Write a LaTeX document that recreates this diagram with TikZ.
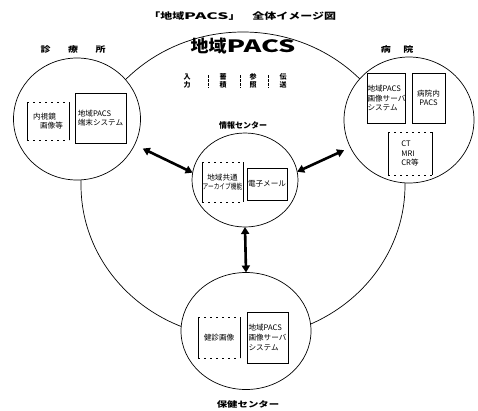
\documentclass[tikz,border=0pt]{standalone}
\usepackage{fontspec}
\setmainfont{Noto Sans CJK JP}
\usetikzlibrary{arrows.meta,shapes.geometric}

% horizontal stretch for wide-set labels
\newcommand\wideto[2]{\scalebox{#1}[1]{#2}}
% box with solid sides and broken top/bottom rules
\newcommand\openframe[1]{%
  \draw[line width=0.6pt] (#1.north west) -- (#1.south west) (#1.north east) -- (#1.south east);
  \draw[line width=0.5pt, dash pattern=on 2pt off 4pt] (#1.north west) -- (#1.north east) (#1.south west) -- (#1.south east);}

\begin{document}
\begin{tikzpicture}[x=1pt,y=-1pt,
  every node/.style={inner sep=0pt, outer sep=0pt},
  zone/.style={draw, ellipse, line width=0.7pt, fill=white, inner sep=0pt},
  boxfont/.style={font=\fontsize{7.6}{9.6}\selectfont},
  frame/.style={draw, line width=0.6pt, boxfont},
  loose/.style={boxfont},
  sitename/.style={font=\fontsize{8}{9}\selectfont\bfseries},
  funcs/.style={font=\fontsize{7}{7.6}\selectfont\bfseries, align=center},
  flow/.style={line width=2.6pt, {Triangle[length=7pt,width=8pt]}-{Triangle[length=7pt,width=8pt]}},
  sep/.style={line width=0.6pt, dash pattern=on 2.5pt off 1.5pt},
]
\useasboundingbox (0,0) rectangle (478,410);

% headline
\node[font=\fontsize{9}{11}\selectfont\bfseries, anchor=east] (title) at (336,16)
  {\wideto{1.33}{「地域\wideto{1.45}{PACS}」　全体イメージ図}};

% the regional network
\node[draw, ellipse, line width=0.7pt, minimum width=324pt, minimum height=306pt] (region) at (243,185) {};
\node[font=\fontsize{17}{20}\selectfont\bfseries] (regtitle) at (243,46)
  {\wideto{1.06}{地域\wideto{1.5}{PACS}}};

% functions
\node[funcs] (f1) at (187,81) {入\\力};
\node[funcs] (f2) at (223,81) {蓄\\積};
\node[funcs] (f3) at (253,81) {参\\照};
\node[funcs] (f4) at (283,81) {伝\\送};
\draw[sep] (208,75) -- (208,88);
\draw[sep] (240,75) -- (240,88);
\draw[sep] (268,75) -- (268,88);

% sites
\node[zone, minimum width=127pt, minimum height=122pt] (clinic) at (77,119) {};
\node[zone, minimum width=130pt, minimum height=126pt] (hospital) at (409,120) {};
\node[zone, minimum width=106pt, minimum height=94pt] (info) at (245,180) {};
\node[zone, minimum width=130pt, minimum height=117pt] (health) at (246,331) {};

\node[sitename] (clinicname) at (73,49) {\wideto{1.25}{診\hspace{14pt}療\hspace{14pt}所}};
\node[sitename] (hospname) at (397,49) {\wideto{1.25}{病\hspace{10pt}院}};
\node[sitename] (infoname) at (243,125) {情報センター};
\node[sitename] (healthname) at (248,404) {\wideto{1.3}{保健センター}};

% links between sites
\draw[flow, shorten <=9pt] (clinic.-24) -- (info.172);
\draw[flow, shorten <=7pt] (hospital.205) -- (info.9);
\draw[flow] (info.south) -- (health.north);

% clinic
\node[loose, minimum width=42pt, minimum height=38pt, align=left] (endo) at (48,121)
  {内視鏡\\\hspace{7pt}画像等};
\openframe{endo}
\node[frame, minimum width=51pt, minimum height=50pt, align=left] (term) at (100.5,118)
  {地域PACS\\端末システム};

% hospital
\node[frame, minimum width=38pt, minimum height=50pt, align=left] (hsrv) at (386.5,98)
  {地域PACS\\画像サーバ\\システム};
\node[frame, minimum width=33pt, minimum height=50pt, align=center] (inpacs) at (428.5,98)
  {病院内\\PACS};
\node[loose, minimum width=44pt, minimum height=43pt, align=left] (modal) at (410,153.5)
  {CT\\MRI\\CR等};
\openframe{modal}

% information center
\node[loose, minimum width=41pt, minimum height=40pt, align=center] (archive) at (222.5,182)
  {地域共通\\\wideto{0.75}{アーカイブ機能}};
\openframe{archive}
\node[frame, minimum width=40pt, minimum height=32pt] (mail) at (267,184) {電子メール};

% health center
\node[loose, minimum width=42pt, minimum height=41pt] (checkup) at (219,337.5) {健診画像};
\openframe{checkup}
\node[frame, minimum width=41pt, minimum height=51pt, align=left] (bsrv) at (267.5,337.5)
  {地域PACS\\画像サーバ\\システム};
\end{tikzpicture}
\end{document}
